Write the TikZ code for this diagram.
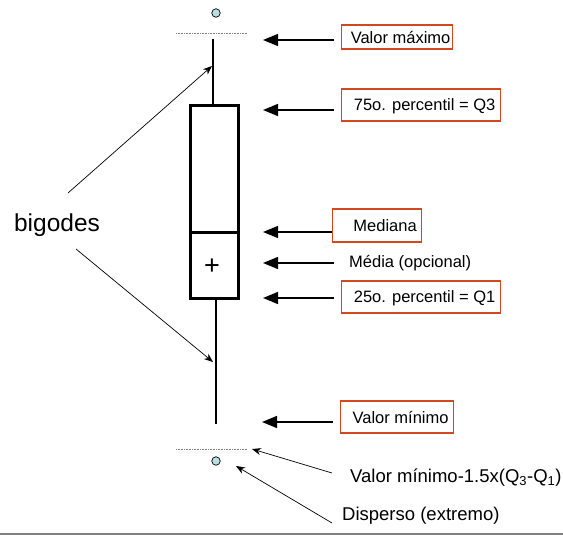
\documentclass[tikz,border=0pt]{standalone}
\usepackage{fontspec}
\setmainfont{Liberation Sans}
\usetikzlibrary{arrows.meta}
\definecolor{lblred}{HTML}{D2481E}
\definecolor{outl}{HTML}{B8E0E0}
\tikzset{
  lbl/.style={draw=lblred, line width=1.2pt, inner sep=0pt, minimum height=#1, anchor=west, font=\fontsize{16.5}{19}\selectfont, text depth=0pt},
  lbl/.default=24pt,
  plain/.style={inner sep=0pt, anchor=west, font=\fontsize{16.5}{19}\selectfont},
  bigarrow/.style={line width=1.4pt, -{Triangle[length=15pt,width=12pt]}},
  thinarrow/.style={line width=0.7pt, -{Stealth[length=9pt,width=7pt]}},
  thick box/.style={line width=3pt},
  outlier/.style={circle, draw=black, fill=outl, line width=0.7pt, minimum size=8.5pt, inner sep=0pt},
  dotline/.style={gray, line width=0.8pt, dash pattern=on 0.8pt off 0.8pt},
  big/.style={inner sep=0pt, font=\fontsize{18.5}{22}\selectfont},
}
\begin{document}
\begin{tikzpicture}[x=1pt,y=-1pt]
\useasboundingbox (0,0) rectangle (563,535);
% box
\draw[thick box] (190,106) rectangle (238,298);
\draw[thick box] (190,232) -- (238,232);
\node[inner sep=0pt, font=\fontsize{27}{27}\selectfont] (plus) at (212,267) {+};
% whiskers
\coordinate (wtop) at (213,39);
\coordinate (wtopb) at (213,106);
\coordinate (wbot) at (216,424);
\coordinate (wbott) at (216,298);
\draw[line width=2.5pt] (wtop) -- (wtopb);
\draw[line width=2.5pt] (wbott) -- (wbot);
% dotted limits
\coordinate (d1a) at (176,33); \coordinate (d1b) at (247,33);
\coordinate (d2a) at (176,449); \coordinate (d2b) at (247,449);
\draw[dotline] (d1a) -- (d1b);
\draw[dotline] (d2a) -- (d2b);
% outliers
\node[outlier] (o1) at (216,13) {};
\node[outlier] (o2) at (216,461) {};
% labels
\node[lbl, minimum width=111pt] (vmax) at (341,37) {\hspace{7pt}Valor máximo\hfill};
\node[lbl=32pt, minimum width=159pt] (q3) at (341,105) {\hspace{7pt}75o. percentil = Q3\hfill};
\node[lbl=33pt, minimum width=89pt] (med) at (332,225.5) {\hspace{16pt}Mediana\hfill};
\node[plain] (media) at (349,263) {Média (opcional)};
\node[lbl=32pt, minimum width=159pt] (q1) at (341,297) {\hspace{7pt}25o. percentil = Q1\hfill};
\node[lbl=32pt, minimum width=113pt] (vmin) at (340,417) {\hspace{7pt}Valor mínimo\hfill};
\node[big, anchor=west] (lim) at (350,478) {Valor mínimo-1.5x(Q\textsubscript{3}-Q\textsubscript{1})};
\node[big, anchor=west] (disp) at (342,516) {Disperso (extremo)};
\node[inner sep=0pt, font=\fontsize{24.5}{28}\selectfont] (big) at (57,225) {bigodes};
% horizontal arrows
\coordinate (t1) at (263,40);  \coordinate (s1) at (334,40);
\coordinate (t2) at (263,110); \coordinate (s2) at (334,110);
\coordinate (t3) at (263,232); \coordinate (s3) at (332,232);
\coordinate (t4) at (263,263); \coordinate (s4) at (334,263);
\coordinate (t5) at (263,298); \coordinate (s5) at (334,298);
\coordinate (t6) at (262,422); \coordinate (s6) at (333,422);
\draw[bigarrow] (s1) -- (t1);
\draw[bigarrow] (s2) -- (t2);
\draw[bigarrow] (s3) -- (t3);
\draw[bigarrow] (s4) -- (t4);
\draw[bigarrow] (s5) -- (t5);
\draw[bigarrow] (s6) -- (t6);
% thin arrows
\coordinate (b1s) at (68,193); \coordinate (b1t) at (212,66);
\coordinate (b2s) at (76,249); \coordinate (b2t) at (213,362);
\draw[thinarrow] (b1s) -- (b1t);
\draw[thinarrow] (b2s) -- (b2t);
\coordinate (l1s) at (332,473); \coordinate (l1t) at (252,449);
\coordinate (l2s) at (332,523); \coordinate (l2t) at (236,466);
\draw[thinarrow] (l1s) -- (l1t);
\draw[thinarrow] (l2s) -- (l2t);
% bottom rule
\coordinate (r1) at (0,534); \coordinate (r2) at (563,534);
\draw[gray, line width=2pt] (r1) -- (r2);
\end{tikzpicture}
\end{document}
